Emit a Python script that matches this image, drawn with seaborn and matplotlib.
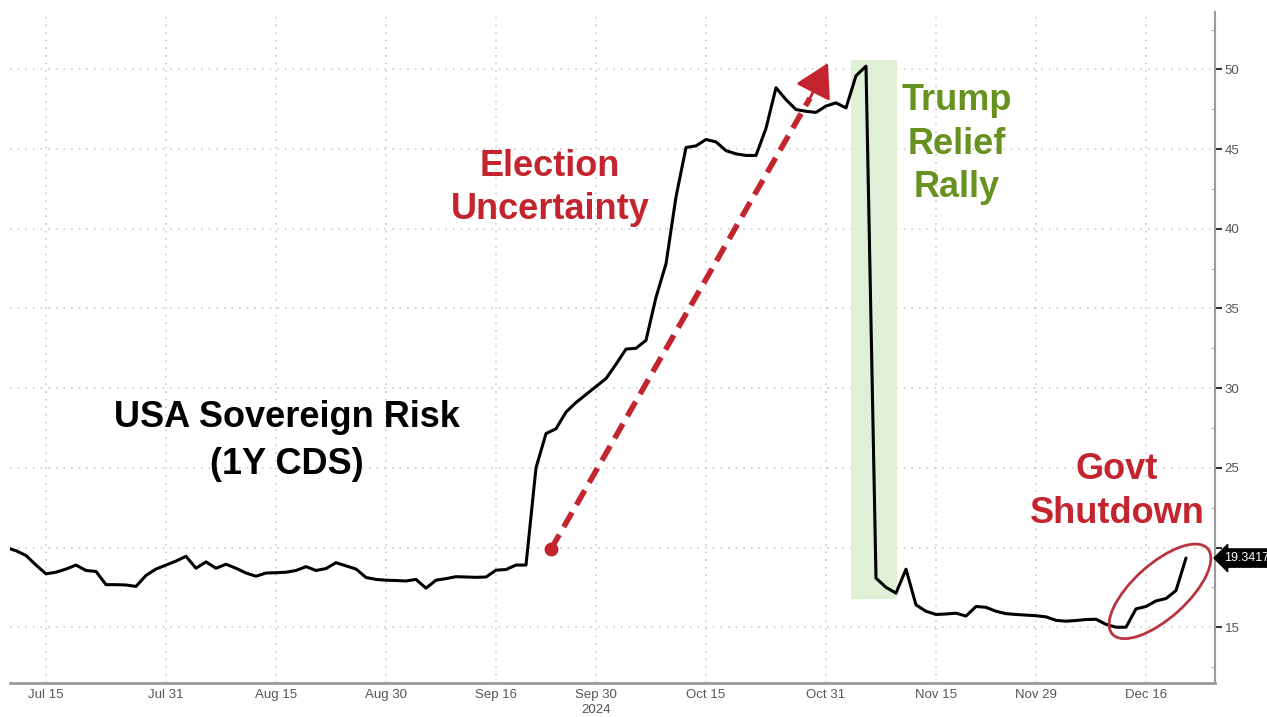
import numpy as np
import pandas as pd
import matplotlib
matplotlib.use("Agg")
import matplotlib.pyplot as plt
import seaborn as sns
from matplotlib.patches import Ellipse
from matplotlib.transforms import ScaledTranslation, blended_transform_factory

sns.set_style("white")
plt.rcParams['font.family'] = ['Liberation Sans', 'DejaVu Sans']

# trading days shown on the chart (Bloomberg style, weekdays only)
dates = pd.bdate_range("2024-07-09", "2024-12-20")
cds = [20.0, 19.8, 19.5, 18.9,
       18.35, 18.45, 18.65, 18.9, 18.56, 18.5, 17.67, 17.67, 17.65, 17.56, 18.25, 18.65, 18.9,
       19.15, 19.45, 18.7, 19.1, 18.7, 18.95, 18.7, 18.4, 18.2, 18.4, 18.42,
       18.45, 18.56, 18.8, 18.56, 18.68, 19.05, 18.85, 18.65, 18.12, 18.0, 17.95,
       17.93, 17.9, 18.0, 17.45, 17.95, 18.05, 18.17, 18.15, 18.13, 18.15, 18.58,
       18.62, 18.9, 18.9,
       25.0, 27.15, 27.45, 28.5, 29.1, 29.6, 30.1, 30.6, 31.5, 32.45, 32.5, 33.0,
       35.7, 37.8, 42.0, 45.1, 45.2, 45.6, 45.45, 44.9, 44.7, 44.6, 44.6, 46.3,
       48.85, 48.1, 47.48, 47.37, 47.3, 47.7, 47.9, 47.58, 49.6, 50.2,
       18.08, 17.5, 17.14, 18.64, 16.4, 16.0, 15.8, 15.83, 15.88, 15.7, 16.3, 16.25,
       16.0, 15.85, 15.8, 15.76, 15.72, 15.65, 15.43, 15.38, 15.42, 15.48, 15.5,
       15.18, 15.0, 15.0, 16.15, 16.3, 16.65, 16.8, 17.3, 19.34]

tick_dates = ["2024-07-15", "2024-07-31", "2024-08-15", "2024-08-30", "2024-09-16", "2024-09-30",
              "2024-10-15", "2024-10-31", "2024-11-15", "2024-11-29", "2024-12-16"]
tick_labels = ["Jul 15", "Jul 31", "Aug 15", "Aug 30", "Sep 16", "Sep 30",
               "Oct 15", "Oct 31", "Nov 15", "Nov 29", "Dec 16"]
minor_dates = ["2024-07-22", "2024-08-08", "2024-08-23", "2024-09-09", "2024-09-23", "2024-10-08",
               "2024-10-23", "2024-11-08", "2024-11-22", "2024-12-09", "2024-12-23"]
y_ticks = [15, 20, 25, 30, 35, 40, 45, 50]
y_labels = ["15", "", "25", "30", "35", "40", "45", "50"]   # 20 sits under the last-value tag
last_label = "19.3417"

all_days = pd.bdate_range("2024-07-09", "2024-12-31")
pos = {d: i for i, d in enumerate(all_days)}
x = np.arange(len(cds))
df = pd.DataFrame({"x": x, "cds": cds, "date": dates})

RED = "#c3242d"
GREEN = "#67921f"
GRID = "#c4c4c4"
TXT = "#555555"

fig = plt.figure(figsize=(12.67, 7.17), dpi=100)
ax = fig.add_axes([10 / 1267, 1 - 683 / 717, 1205 / 1267, 671 / 717])

# green relief rally band
ax.fill_between([84.5, 89.1], 16.8, 50.6, color="#dcefd2", alpha=0.9, lw=0, zorder=1)

sns.lineplot(data=df, x="x", y="cds", color="black", lw=2.2, ax=ax, zorder=4)

ax.set_xlim(0.4, 120.9)
ax.set_ylim(11.5, 53.6)

ax.set_xticks([pos[pd.Timestamp(d)] for d in tick_dates])
ax.set_xticklabels(tick_labels)
ax.set_xticks([pos[pd.Timestamp(d)] for d in minor_dates], minor=True)
ax.set_yticks(y_ticks)
ax.set_yticklabels(y_labels)
ax.set_yticks(np.arange(12.5, 53, 2.5), minor=True)
ax.yaxis.tick_right()
ax.set_xlabel("")
ax.set_ylabel("")

ax.grid(True, which="major", color=GRID, lw=1.1, ls=(0, (1, 4)))
for s in ["left", "top"]:
    ax.spines[s].set_visible(False)
ax.spines["bottom"].set_color("#9a9a9a")
ax.spines["bottom"].set_linewidth(2)
ax.spines["right"].set_color("#9a9a9a")
ax.spines["right"].set_linewidth(1.5)
ax.tick_params(axis="x", which="major", length=4, color="#777777", labelsize=9.5,
               labelcolor=TXT, pad=2, direction="inout")
ax.tick_params(axis="x", which="minor", length=3, color="#999999", direction="inout")
ax.tick_params(axis="y", which="major", length=5, width=1.5, color="#333333", labelsize=9.5,
               labelcolor=TXT, pad=2, direction="out")
ax.tick_params(axis="y", which="minor", length=3, color="#999999", direction="in")

ax.text(pos[pd.Timestamp("2024-09-30")], -0.031, "2024",
        transform=blended_transform_factory(ax.transData, ax.transAxes),
        ha="center", va="top", fontsize=9.5, color=TXT)

# annotations
ax.text(54.4, 42.55, "Election\nUncertainty", ha="center", va="center", fontsize=26,
        fontweight="bold", color=RED, linespacing=1.3, zorder=6)
ax.text(95.1, 45.3, "Trump\nRelief\nRally", ha="center", va="center", fontsize=26,
        fontweight="bold", color=GREEN, linespacing=1.32, zorder=6)
ax.text(28.1, 26.7, "USA Sovereign Risk\n(1Y CDS)", ha="center", va="center", fontsize=26,
        fontweight="bold", color="black", linespacing=1.45, zorder=6)
ax.text(111.1, 23.5, "Govt\nShutdown", ha="center", va="center", fontsize=26,
        fontweight="bold", color=RED, linespacing=1.35, zorder=6)

# dashed arrow: dashed shaft plus a solid head
arrow_start = (54.5, 19.9)
arrow_end = (82.2, 50.4)
shaft_end = (80.4, 48.2)
ax.plot([arrow_start[0]], [arrow_start[1]], "o", color=RED, ms=9, zorder=5)
ax.plot([arrow_start[0], shaft_end[0]], [arrow_start[1], shaft_end[1]], color=RED, lw=4,
        ls=(0, (3, 1.6)), solid_capstyle="butt", dash_capstyle="butt", zorder=5)
ax.annotate("", xy=arrow_end, xytext=shaft_end,
            arrowprops=dict(arrowstyle="-|>,head_length=1.3,head_width=0.75", color=RED, lw=2,
                            mutation_scale=16, shrinkA=0, shrinkB=0), zorder=5)

# circle round the shutdown jump (size in pixels, centred on a data point)
trans = ScaledTranslation(115.4, 17.25, ax.transData)
ax.add_patch(Ellipse((0, 0), width=128, height=54, angle=42, transform=trans,
                     fill=False, ec="#b8343f", lw=2, zorder=6, clip_on=False))

# last value tag
ax.text(1.0 + 9 / 1205, cds[-1], last_label,
        transform=blended_transform_factory(ax.transAxes, ax.transData),
        ha="left", va="center", fontsize=9, color="white", clip_on=False, zorder=7,
        bbox=dict(boxstyle="larrow,pad=0.25", fc="black", ec="black"))

fig.savefig("out.png", dpi=100)
